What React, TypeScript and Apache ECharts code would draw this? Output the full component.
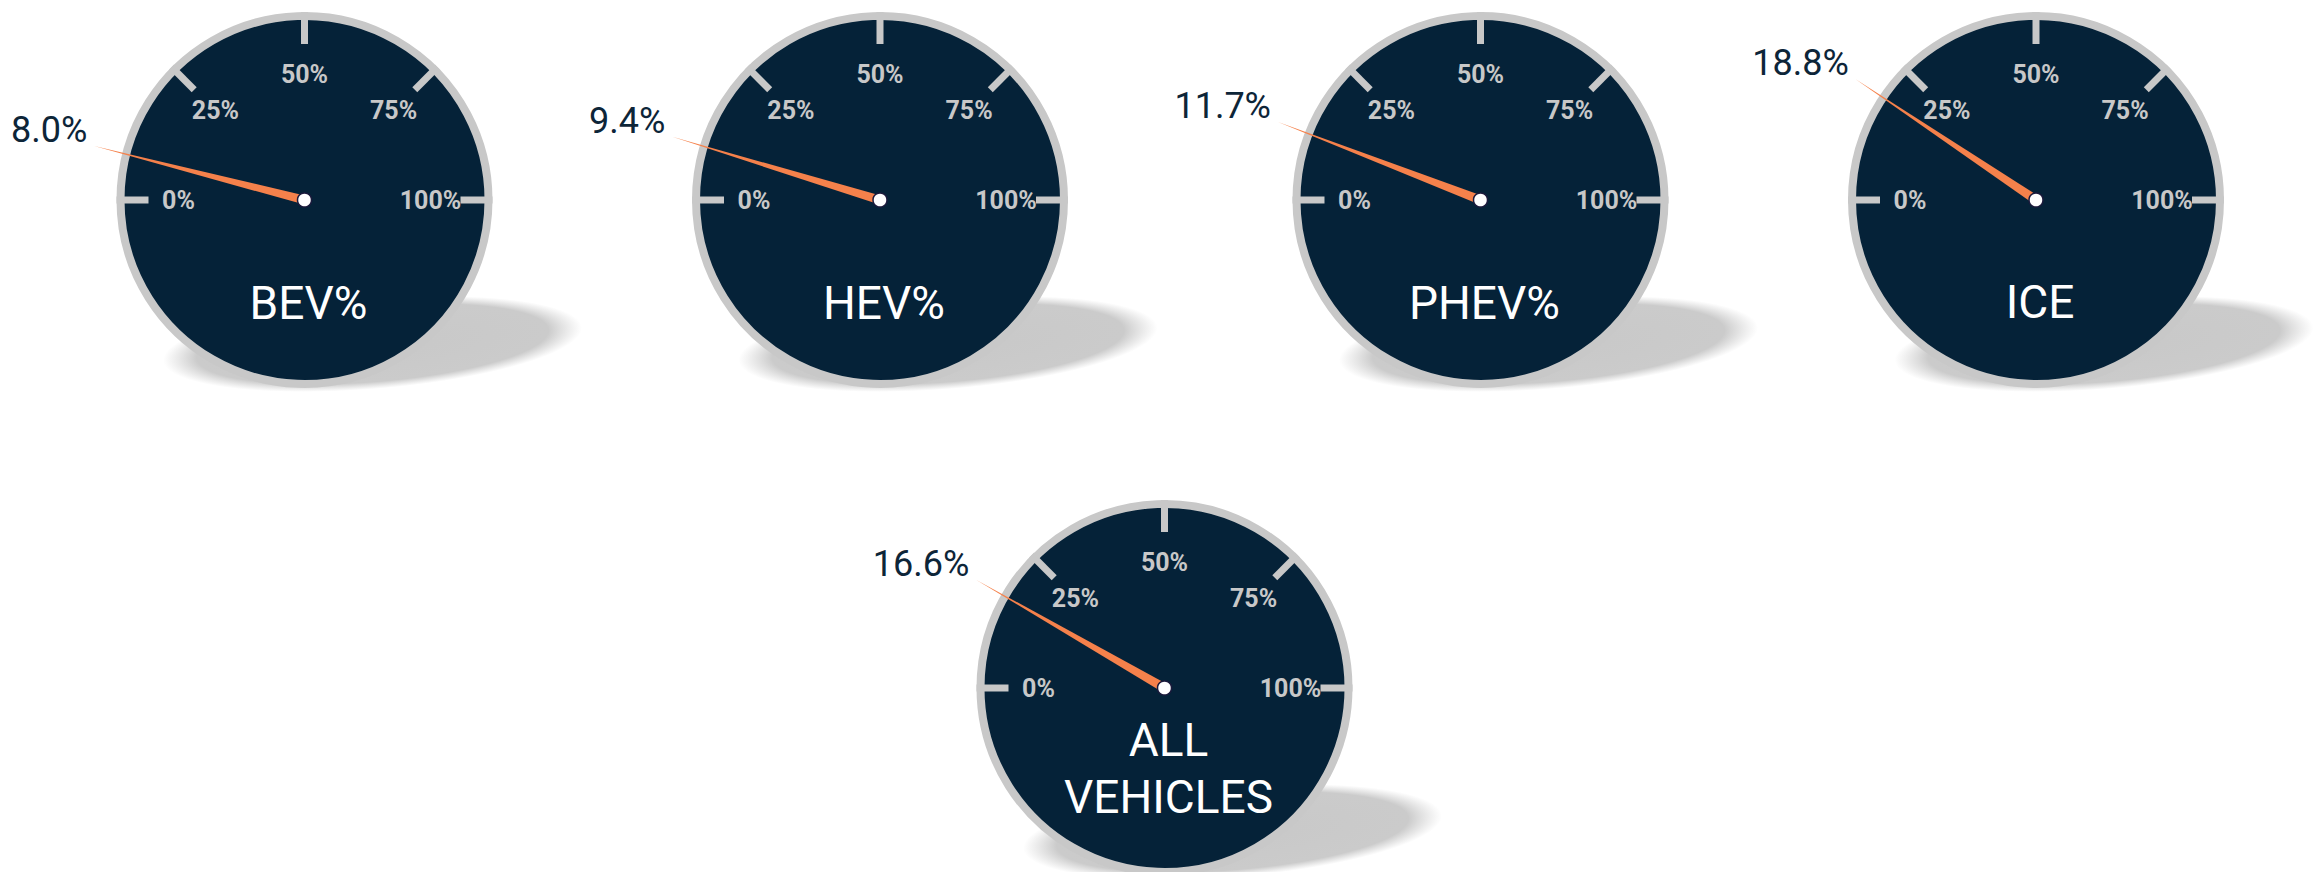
import React, { useEffect, useRef } from 'react';
import * as echarts from 'echarts';

// ---- data ----
const categories = ['BEV%', 'HEV%', 'PHEV%', 'ICE', 'ALL\nVEHICLES'];
const values = [8.0, 9.4, 11.7, 18.8, 16.6];
const tickValues = [0, 25, 50, 75, 100];
const tickLabels = ['0%', '25%', '50%', '75%', '100%'];

// ---- layout (px) ----
const WIDTH = 2318;
const HEIGHT = 872;
const gaugeCenters: [number, number][] = [
  [304.5, 200],
  [880, 200],
  [1480.5, 200],
  [2036, 200],
  [1164.5, 688],
];
const titleOffsetsY = [103, 103, 103, 102, 80];
const R = 188;
const PTR_LEN = 217;
const DETAIL_BOX = 160;

const DIAL = '#052238';
const RIM = '#c8c8c8';
const NEEDLE = '#f5814b';
const VALUE_TEXT = '#0d2538';
const FONT = 'Roboto, "Noto Sans", sans-serif';

export default function App() {
  const ref = useRef<HTMLDivElement>(null);

  useEffect(() => {
    document.body.style.margin = '0';
    if (!ref.current) return;
    const chart = echarts.init(ref.current, null, { renderer: 'svg' });

    const graphics: any[] = [];
    gaugeCenters.forEach(([cx, cy]) => {
      graphics.push({
        type: 'ellipse',
        x: cx + 68,
        y: cy + 144,
        rotation: 0.08,
        z: 0,
        shape: { cx: 0, cy: 0, rx: 210, ry: 45 },
        style: {
          fill: new echarts.graphic.RadialGradient(0.5, 0.5, 0.5, [
            { offset: 0, color: 'rgba(200,200,200,1)' },
            { offset: 0.84, color: 'rgba(203,203,203,1)' },
            { offset: 1, color: 'rgba(210,210,210,0)' },
          ]),
        },
      });
      graphics.push({
        type: 'circle',
        z: 1,
        shape: { cx, cy, r: R - 4 },
        style: { fill: DIAL, stroke: RIM, lineWidth: 8 },
      });
    });

    const series = categories.map((name, i) => {
      const [cx, cy] = gaugeCenters[i];
      const v = values[i];
      const a = (v / 100) * Math.PI;
      const tipX = -PTR_LEN * Math.cos(a);
      const tipY = -PTR_LEN * Math.sin(a);
      return {
        type: 'gauge',
        center: [cx, cy],
        radius: R,
        startAngle: 180,
        endAngle: 0,
        min: 0,
        max: 100,
        splitNumber: 4,
        axisLine: { show: false, lineStyle: { width: 0 } },
        progress: { show: false },
        axisTick: { show: false },
        splitLine: {
          show: true,
          distance: 0,
          length: 32,
          lineStyle: { color: RIM, width: 7, cap: 'butt' },
        },
        axisLabel: {
          show: true,
          distance: 30,
          rotate: 0.0001,
          color: RIM,
          fontSize: 25,
          fontWeight: 'bold',
          fontFamily: FONT,
          formatter: (val: number) => {
            const k = tickValues.indexOf(Math.round(val));
            return k >= 0 ? tickLabels[k] : '';
          },
        },
        pointer: {
          show: true,
          icon: 'triangle',
          length: PTR_LEN,
          width: 9,
          itemStyle: { color: NEEDLE },
        },
        anchor: {
          show: true,
          showAbove: true,
          size: 14,
          itemStyle: { color: '#ffffff', borderColor: '#1c1a3c', borderWidth: 1.5 },
        },
        title: {
          show: true,
          offsetCenter: [4, titleOffsetsY[i]],
          color: '#ffffff',
          fontSize: 46,
          fontWeight: 'normal',
          lineHeight: 57,
          fontFamily: FONT,
        },
        detail: {
          show: true,
          valueAnimation: false,
          offsetCenter: [tipX - 7 - DETAIL_BOX / 2, tipY - 16],
          width: DETAIL_BOX,
          fontSize: 36,
          fontWeight: 'normal',
          color: VALUE_TEXT,
          fontFamily: FONT,
          formatter: (val: number) => `{a|${val.toFixed(1)}%}`,
          rich: {
            a: {
              align: 'right',
              fontSize: 36,
              fontWeight: 'normal',
              color: VALUE_TEXT,
              fontFamily: FONT,
            },
          },
        },
        data: [{ value: v, name }],
      };
    });

    chart.setOption({
      animation: false,
      backgroundColor: '#ffffff',
      graphic: { elements: graphics },
      series,
    } as any);

    return () => {
      chart.dispose();
    };
  }, []);

  return <div ref={ref} style={{ width: WIDTH, height: HEIGHT }} />;
}
